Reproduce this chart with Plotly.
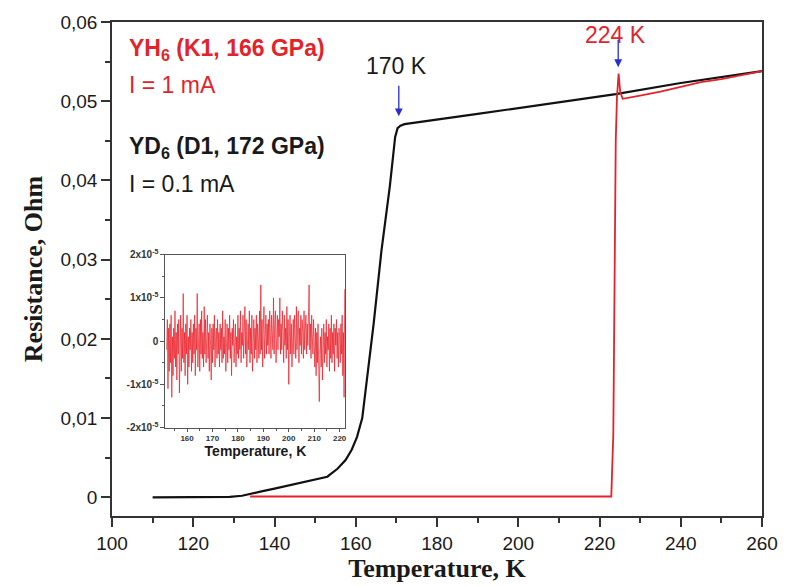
"""Resistance vs temperature for YH6 / YD6 with a noise inset."""

import numpy as np
import plotly.graph_objects as go

SANS = "Liberation Sans, Arial, sans-serif"
SERIF = "Liberation Serif, Times New Roman, serif"
RED = "#e3232b"
BLUE = "#2b2bd6"
AXIS = "#333333"
TEXT = "#1a1a1a"

# YD6 (D1, 172 GPa), I = 0.1 mA
black_temp = [110, 125, 129, 132, 134, 136.8, 140, 144.9, 150, 153, 155.5,
              157.5, 159, 160.3, 161.6, 162.8, 164.4, 166.3, 168.4, 169.7,
              170.3, 171, 172, 190, 210, 224, 240, 260]
black_res = [0, 0, 0.00005, 0.0002, 0.0004, 0.00074, 0.0011, 0.00165, 0.0022,
             0.0026, 0.0036, 0.0047, 0.0060, 0.0076, 0.0100, 0.0149, 0.0219,
             0.0310, 0.0393, 0.0455, 0.0466, 0.0469, 0.0471, 0.0484, 0.0499,
             0.0509, 0.0523, 0.0538]

# YH6 (K1, 166 GPa), I = 1 mA
red_temp = [134, 160, 200, 222.9, 223.4, 224.0, 224.3, 224.7, 225.1, 225.7,
            230, 235, 240, 245, 250, 260]
red_res = [0.0001, 0.0001, 0.0001, 0.0001, 0.008, 0.045, 0.0505, 0.0535,
           0.0512, 0.0503, 0.0507, 0.0512, 0.0518, 0.0524, 0.0528, 0.0538]

# inset: residual resistance of YH6 below Tc, in units of 1e-6 Ohm
inset_start, inset_step = 152.0, 0.25
inset_noise_e6 = [
    -2, 5, -11, 3, -7, 4, -5, 6, -13, 1, -8, 3, -4, 7, -6, 2, -9, 4, -3, 5,
    -12, -2, 6, -7, 3, -4, 11, -5, 2, -8, 4, -3, 6, -10, 1, -6, 3, -2, 5, -7,
    2, -5, 4, -3, 6, -8, 3, -2, 11, -6, 1, 4, -7, 5, -3, 7, -4, 2, -6, 8,
    -3, 5, -5, 3, 6, -4, 2, -7, 4, -1, -9, 3, -5, 4, -2, 6, -6, 1, 3, -4,
    5, -3, 2, -6, 4, -2, 3, -5, 7, -4, 1, -3, 5, -7, 2, 4, -5, 3, -2, 6,
    -4, 2, -8, 3, -1, 5, -5, 2, 4, -6, 1, -3, 6, -4, 3, -2, 7, -5, 2, -1,
    6, -4, 3, 8, -3, 5, -6, 2, 4, -2, 7, -5, 3, -3, 6, -7, 2, 5, -4, 3,
    -2, 6, -5, 4, 1, -4, 7, -3, 13, -2, 5, -6, 3, 8, -4, 2, 6, -3, 4, -1,
    5, -3, 7, 2, -4, 6, 1, -2, 10, -3, 4, 7, -5, 3, 6, -2, 5, 1, 10, -3,
    4, -2, 7, 2, -5, 6, -1, 3, -4, 8, -2, 5, -10, 1, 6, -3, 4, -6, 2, 5,
    -3, 6, 1, -4, 8, -2, 4, 7, -5, 3, -1, 6, -3, 5, 2, -4, 7, -2, 3, 6,
    -3, 4, -1, 5, 13, -2, 4, -4, 6, 1, -3, 5, -2, -6, 3, -8, 2, -5, 4, -7,
    -14, -3, 1, -6, 3, -9, -2, 4, -5, 2, -3, 5, -6, 1, -2, 4, -7, 3, -4, 6,
    -5, 2, -3, 4, -7, 3, -1, 5, -4, 2, -6, 3, 1, -5, 4, -3, 6, -8, 2, -13,
    12,
]

x_ticks = [100, 120, 140, 160, 180, 200, 220, 240, 260]
y_ticks = [0, 0.01, 0.02, 0.03, 0.04, 0.05, 0.06]
y_ticklabels = ["0", "0,01", "0,02", "0,03", "0,04", "0,05", "0,06"]
inset_x_ticks = [160, 170, 180, 190, 200, 210, 220]
inset_y_ticks = [-2e-5, -1e-5, 0, 1e-5, 2e-5]
inset_y_labels = ["-2x10<sup>-5</sup>", "-1x10<sup>-5</sup>", "0",
                  "1x10<sup>-5</sup>", "2x10<sup>-5</sup>"]

inset_temp = inset_start + inset_step * np.arange(len(inset_noise_e6))
inset_res = np.array(inset_noise_e6) * 1e-6

fig = go.Figure()

fig.add_trace(go.Scatter(x=black_temp, y=black_res, mode="lines",
                         line=dict(color="#111111", width=2.2)))
fig.add_trace(go.Scatter(x=red_temp, y=red_res, mode="lines",
                         line=dict(color=RED, width=1.8)))
fig.add_trace(go.Scatter(x=inset_temp, y=inset_res, mode="lines",
                         xaxis="x2", yaxis="y2",
                         line=dict(color="rgba(232,20,30,0.85)", width=0.8)))

axis_common = dict(showline=True, linecolor=AXIS, linewidth=1.5, mirror=True,
                   ticks="outside", tickcolor=AXIS, tickwidth=1.5,
                   showgrid=False, zeroline=False)

fig.update_layout(
    width=790, height=586,
    margin=dict(l=112, r=17, t=15, b=67),
    paper_bgcolor="white", plot_bgcolor="white",
    showlegend=False,
    xaxis=dict(
        **axis_common, range=[100, 260], tickvals=x_ticks, ticklen=9,
        minor=dict(ticks="outside", ticklen=5, tickwidth=1.5, tickcolor=AXIS,
                   dtick=10, tick0=100),
        tickfont=dict(family=SANS, size=19, color=TEXT),
        title=dict(text="<b>Temperature, K</b>", standoff=2,
                   font=dict(family=SERIF, size=26, color=TEXT)),
    ),
    yaxis=dict(
        **axis_common, range=[-0.00236, 0.06], tickvals=y_ticks,
        ticktext=y_ticklabels, ticklen=9,
        minor=dict(ticks="outside", ticklen=5, tickwidth=1.5, tickcolor=AXIS,
                   dtick=0.005, tick0=0),
        tickfont=dict(family=SANS, size=19, color=TEXT),
        title=dict(text="<b>Resistance, Ohm</b>", standoff=10,
                   font=dict(family=SERIF, size=26, color=TEXT)),
    ),
    xaxis2=dict(
        showline=True, linecolor="#555555", linewidth=1, mirror=True,
        ticks="outside", tickcolor="#555555", ticklen=3, tickwidth=1,
        showgrid=False, zeroline=False,
        domain=[0.0822, 0.3592], anchor="y2", range=[151.5, 222.3],
        tickvals=inset_x_ticks,
        minor=dict(ticks="outside", ticklen=2, tickcolor="#555555", dtick=5,
                   tick0=150),
        tickfont=dict(family=SANS, size=8, color="#333333", weight="bold"),
        title=dict(text="<b>Temperature, K</b>", standoff=4,
                   font=dict(family=SANS, size=14, color=TEXT)),
    ),
    yaxis2=dict(
        showline=True, linecolor="#555555", linewidth=1, mirror=True,
        ticks="outside", tickcolor="#555555", ticklen=4, tickwidth=1,
        showgrid=False, zeroline=False,
        domain=[0.179, 0.529], anchor="x2", range=[-2e-5, 2e-5],
        tickvals=inset_y_ticks, ticktext=inset_y_labels,
        minor=dict(ticks="outside", ticklen=2, tickcolor="#555555",
                   dtick=0.5e-5, tick0=0),
        tickfont=dict(family=SANS, size=10, color="#333333", weight="bold"),
    ),
)

# sample labels
labels = [
    ("<b>YH<sub>6</sub> (K1, 166 GPa)</b>", 0.0565, RED),
    ("I = 1 mA", 0.0521, RED),
    ("<b>YD<sub>6</sub> (D1, 172 GPa)</b>", 0.0441, TEXT),
    ("I = 0.1 mA", 0.0396, TEXT),
]
for text, yval, color in labels:
    fig.add_annotation(x=103.6, y=yval, xref="x", yref="y", text=text,
                       showarrow=False, xanchor="left", yanchor="middle",
                       font=dict(family=SANS, size=23, color=color))

# Tc markers
fig.add_annotation(x=170.1, y=0.0545, text="170 K", showarrow=False,
                   font=dict(family=SANS, size=23, color=TEXT))
fig.add_annotation(x=224.0, y=0.0583, text="224 K", showarrow=False,
                   font=dict(family=SANS, size=23, color=RED))
for tip_x, tip_y, length in [(170.6, 0.0481, 32), (224.6, 0.0543, 29)]:
    fig.add_annotation(x=tip_x, y=tip_y, text="", showarrow=True,
                       ax=0, ay=-length, arrowhead=2, arrowsize=1.2,
                       arrowwidth=1.3, arrowcolor=BLUE, standoff=0)

fig.write_html("out.html", config={"displayModeBar": False},
               post_script="document.body.style.margin='0';")
